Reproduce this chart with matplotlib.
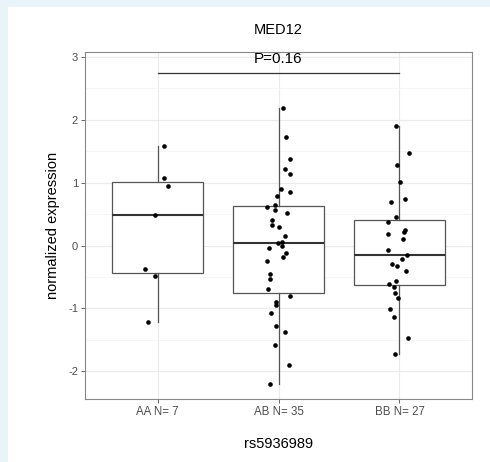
import matplotlib
matplotlib.use("Agg")
import matplotlib.pyplot as plt
from matplotlib.patches import Rectangle

plt.rcParams['font.family'] = ['Liberation Sans', 'DejaVu Sans']
plt.rcParams['axes.unicode_minus'] = False

# --- data ---
groups = ["AA", "AB", "BB"]
tick_labels = ["AA N= 7", "AB N= 35", "BB N= 27"]

aa_vals = [1.59, 1.07, 0.95, 0.49, -0.37, -0.49, -1.21]
aa_jit = [0.05, 0.05, 0.09, -0.02, -0.10, -0.02, -0.08]

ab_vals = [2.195, 1.72, 1.376, 1.217, 1.138, 0.894, 0.846, 0.794, 0.651, 0.619,
           0.571, 0.524, 0.408, 0.333, 0.29, 0.148, 0.063, 0.043, 0.0, -0.037,
           -0.11, -0.18, -0.25, -0.444, -0.529, -0.698, -0.799, -0.899, -0.952,
           -1.074, -1.286, -1.376, -1.582, -1.905, -2.196]
ab_jit = [0.037, 0.064, 0.091, 0.053, 0.095, 0.02, 0.091, -0.013, -0.027, -0.091,
          -0.033, 0.07, -0.055, -0.05, 0.006, 0.056, 0.025, -0.005, 0.025, -0.075,
          0.064, 0.041, -0.091, -0.069, -0.069, -0.088, 0.091, -0.019, -0.022,
          -0.061, -0.017, 0.053, -0.025, 0.089, -0.071]

bb_vals = [1.905, 1.471, 1.286, 1.011, 0.746, 0.698, 0.45, 0.37, 0.254, 0.211,
           0.185, 0.106, -0.069, -0.143, -0.217, -0.291, -0.328, -0.402, -0.566,
           -0.608, -0.656, -0.746, -0.841, -1.005, -1.138, -1.471, -1.72]
bb_jit = [-0.03, 0.08, -0.017, 0.008, 0.045, -0.071, -0.027, -0.098, 0.05, 0.037,
          -0.094, 0.031, -0.091, 0.066, 0.02, -0.063, -0.017, 0.056, -0.027,
          -0.083, -0.044, -0.033, -0.008, -0.075, -0.044, 0.07, -0.038]

p_label = "P=0.16"
bar_y = 2.746

all_vals = [aa_vals, ab_vals, bb_vals]
all_jit = [aa_jit, ab_jit, bb_jit]

fig = plt.figure(figsize=(4.9, 4.62), dpi=100, facecolor="#e8f3fa")
# white card, leaving the light blue strip on the left and top
fig.patches.append(Rectangle((8 / 490, 0), 1, (462 - 7) / 462,
                             transform=fig.transFigure, facecolor="white",
                             edgecolor="none", zorder=-5))

ax = fig.add_axes([85 / 490, 63 / 462, 387 / 490, 347 / 462])
ax.set_zorder(2)
ax.set_facecolor("white")

pos = [1, 2, 3]
ax.boxplot(all_vals, positions=pos, widths=0.75, whis=1.5, showcaps=False,
           showfliers=False, patch_artist=True,
           boxprops=dict(facecolor="white", edgecolor="#555555", linewidth=0.9),
           medianprops=dict(color="#333333", linewidth=1.5),
           whiskerprops=dict(color="#555555", linewidth=0.9),
           zorder=2)

for p, vals, jit in zip(pos, all_vals, all_jit):
    xs = [p + j for j in jit]
    ax.scatter(xs, vals, s=11, color="black", zorder=3, linewidths=0)

# significance bar
ax.plot([1, 3], [bar_y, bar_y], color="#333333", linewidth=0.9)
ax.text(2, 2.905, p_label, ha="center", va="baseline", fontsize=11)

ax.set_xlim(0.4, 3.6)
ax.set_ylim(-2.44, 3.08)
ax.set_xticks(pos)
ax.set_xticklabels(tick_labels, fontsize=8.3)
ax.set_yticks([-2, -1, 0, 1, 2, 3])
ax.set_yticks([-1.5, -0.5, 0.5, 1.5, 2.5], minor=True)
ax.tick_params(axis="both", which="major", colors="#4d4d4d", labelsize=8,
               length=3, width=0.6, pad=2)
ax.tick_params(axis="x", labelsize=8.3)
ax.tick_params(axis="y", which="minor", length=0)
ax.grid(True, which="major", color="#ebebeb", linewidth=0.8, zorder=0)
ax.grid(True, which="minor", axis="y", color="#f5f5f5", linewidth=0.6, zorder=0)
ax.set_axisbelow(True)
for s in ax.spines.values():
    s.set_color("#888888")
    s.set_linewidth(0.8)

ax.set_title("MED12", fontsize=10.5, pad=13)
ax.set_xlabel("rs5936989", fontsize=10.5, labelpad=14)
ax.set_ylabel("normalized expression", fontsize=10.5, labelpad=6)

fig.savefig("out.png", dpi=100, facecolor=fig.get_facecolor())
